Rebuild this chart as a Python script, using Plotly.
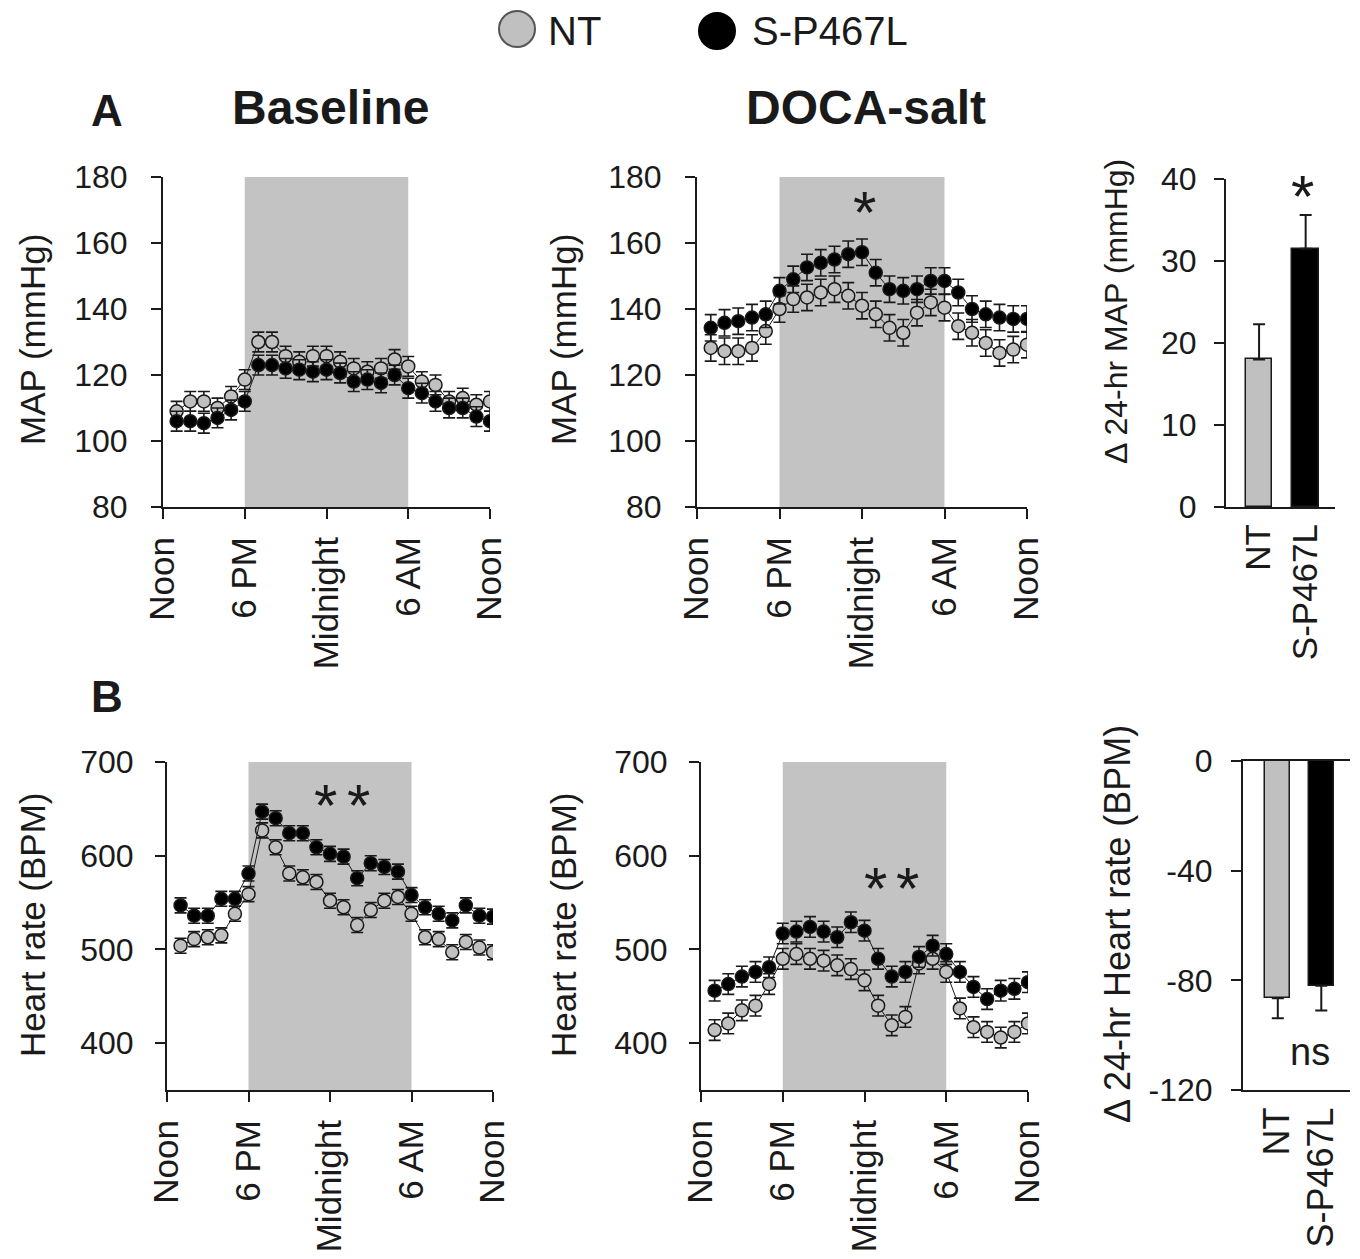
import plotly.graph_objects as go

# ---------------- data ----------------
hours = [1, 2, 3, 4, 5, 6, 7, 8, 9, 10, 11, 12, 13, 14, 15, 16, 17, 18, 19, 20, 21, 22, 23, 24]
time_tickvals = [0, 6, 12, 18, 24]
time_ticktext = ["Noon", "6 PM", "Midnight", "6 AM", "Noon"]

map_base_nt = [109, 112, 112, 110, 113.5, 118.6, 130, 130, 125.7, 124, 125.7, 125.7,
               124, 122, 121, 122, 124.7, 122.6, 118, 117, 112, 113, 111, 112]
map_base_sp = [106, 106, 105.4, 107, 109.4, 112, 123, 123, 122, 121.6, 121, 121.6,
               120.6, 118, 118.6, 117.6, 120, 116, 114.5, 112, 110, 110, 107.4, 106]
map_doca_nt = [128.2, 127.2, 127.2, 128.2, 133.3, 140, 143, 143.5, 145, 146, 144, 141,
               138.4, 134.3, 132.8, 138.9, 142, 140.4, 134.8, 132.8, 129.7, 126.7, 127.7, 129.2]
map_doca_sp = [134.3, 135.8, 136.3, 137.4, 138.4, 145.5, 149, 152.6, 154, 155, 156.6, 157.2,
               151, 146, 145.5, 146, 148.5, 148.5, 145, 140, 138.4, 137.4, 137, 137]

hr_base_nt = [504, 511, 513, 515, 538, 559, 627, 609, 581, 577, 572, 552,
              545, 526, 542, 552, 556, 538, 513, 511, 497, 508, 502, 497]
hr_base_sp = [547, 536, 536, 554, 554, 581, 647, 640, 624, 624, 609, 602,
              599, 576, 592, 588, 583, 558, 545, 538, 531, 547, 536, 535]
hr_doca_nt = [414, 421, 435, 440, 463, 490, 495, 490, 488, 483, 479, 467,
              440, 419, 428, 485, 490, 476, 437, 417, 412, 406, 412, 421]
hr_doca_sp = [456, 463, 471, 476, 481, 517, 519, 524, 519, 513, 529, 520,
              490, 471, 476, 492, 504, 495, 476, 460, 447, 456, 458, 465]

map_base_err = 3
map_doca_err = 4
hr_base_err = 8
hr_doca_err = 11

groups = ["NT", "S-P467L"]
map_delta = [18, 31.5]
map_delta_err = [4.3, 4.1]
hr_delta = [-86.5, -82]
hr_delta_err = [7.3, 9]

hr_delta_ticks = [-120, -80, -40, 0]
hr_delta_ticktext = ["-120", "-80", "-40", "0"]

# ---------------- style ----------------
W, H = 1360, 1259
FONT = "Liberation Sans, Arial, sans-serif"
INK = "#1a1a1a"
GRAY = "#c0c0c0"
BAND = "#c3c3c3"


def px(x):
    return x / W


def py(y):
    return 1 - y / H


fig = go.Figure()


def add_pair(xa, ya, nt, sp, err):
    for vals, fill, name in [(nt, GRAY, "NT"), (sp, "black", "S-P467L")]:
        fig.add_trace(go.Scatter(
            x=hours, y=vals, mode="lines+markers", name=name, showlegend=False,
            xaxis=xa, yaxis=ya,
            line=dict(color=INK, width=1),
            marker=dict(size=13, color=fill, line=dict(color=INK, width=1.5)),
            error_y=dict(type="constant", value=err, color=INK, thickness=1.6, width=6),
        ))


add_pair("x", "y", map_base_nt, map_base_sp, map_base_err)
add_pair("x2", "y2", map_doca_nt, map_doca_sp, map_doca_err)
add_pair("x4", "y4", hr_base_nt, hr_base_sp, hr_base_err)
add_pair("x5", "y5", hr_doca_nt, hr_doca_sp, hr_doca_err)

fig.add_trace(go.Bar(
    x=[0, 1], y=map_delta, xaxis="x3", yaxis="y3", width=0.57, showlegend=False,
    marker=dict(color=[GRAY, "black"], line=dict(color=INK, width=1.5)),
    error_y=dict(type="data", array=map_delta_err, arrayminus=[0, 0], color=INK,
                 thickness=2, width=6),
))
fig.add_trace(go.Bar(
    x=[0, 1], y=hr_delta, xaxis="x6", yaxis="y6", width=0.58, showlegend=False,
    marker=dict(color=[GRAY, "black"], line=dict(color=INK, width=1.5)),
    error_y=dict(type="data", array=[0, 0], arrayminus=hr_delta_err, color=INK,
                 thickness=2, width=6),
))


def tf(size):
    return dict(family=FONT, size=size, color=INK)


def time_xaxis(x0, x1, anchor):
    return dict(domain=[px(x0), px(x1)], anchor=anchor, range=[0, 24],
                tickvals=time_tickvals, ticktext=time_ticktext, tickangle=-90,
                showline=True, linecolor=INK, linewidth=2, ticks="outside",
                ticklen=10, tickwidth=2, tickcolor=INK, tickfont=tf(35),
                ticklabelstandoff=4, showgrid=False, zeroline=False,
                automargin=False, fixedrange=True)


def val_yaxis(y0, y1, anchor, rng, dtick, standoff=17, size=32):
    return dict(domain=[py(y1), py(y0)], anchor=anchor, range=rng, dtick=dtick,
                showline=True, linecolor=INK, linewidth=2, ticks="outside",
                ticklen=10, tickwidth=2, tickcolor=INK, tickfont=tf(size),
                ticklabelstandoff=standoff, showgrid=False, zeroline=False,
                automargin=False, fixedrange=True)


def cat_xaxis(x0, x1, anchor, rng, size, mirror=False):
    return dict(domain=[px(x0), px(x1)], anchor=anchor, range=rng,
                tickvals=[0, 1], ticktext=groups, tickangle=-90,
                showline=True, linecolor=INK, linewidth=2, mirror=mirror, ticks="",
                tickfont=tf(size), ticklabelstandoff=1, showgrid=False,
                zeroline=False, automargin=False, fixedrange=True)


layout_axes = dict(
    xaxis=time_xaxis(163, 490, "y"),
    yaxis=val_yaxis(177, 507, "x", [80, 180], 20),
    xaxis2=time_xaxis(697, 1027, "y2"),
    yaxis2=val_yaxis(177, 507, "x2", [80, 180], 20),
    xaxis3=cat_xaxis(1226, 1335, "y3", [-0.71, 1.63], 35),
    yaxis3=val_yaxis(179, 507, "x3", [0, 40], 10, standoff=11),
    xaxis4=time_xaxis(167, 493, "y4"),
    yaxis4=val_yaxis(762, 1090, "x4", [350, 700], 100, standoff=15),
    xaxis5=time_xaxis(701, 1028, "y5"),
    yaxis5=val_yaxis(762, 1090, "x5", [350, 700], 100, standoff=15),
    xaxis6=cat_xaxis(1243, 1350, "y6", [-0.8, 1.66], 36, mirror=True),
    yaxis6=val_yaxis(761, 1090, "x6", [-120, 0], 40, standoff=12),
)
layout_axes["yaxis4"]["tickvals"] = [400, 500, 600, 700]
layout_axes["yaxis5"]["tickvals"] = [400, 500, 600, 700]
layout_axes["yaxis6"]["tickvals"] = hr_delta_ticks
layout_axes["yaxis6"]["ticktext"] = hr_delta_ticktext

# dark-period bands
shapes = []
for xr, yr in [("x", "y"), ("x2", "y2"), ("x4", "y4"), ("x5", "y5")]:
    shapes.append(dict(type="rect", xref=xr, yref=yr + " domain", x0=6, x1=18, y0=0, y1=1,
                       fillcolor=BAND, line=dict(width=0), layer="below"))

# legend symbols
shapes.append(dict(type="circle", xref="paper", yref="paper",
                   x0=px(499), x1=px(535), y0=py(47), y1=py(11),
                   fillcolor=GRAY, line=dict(color="#555555", width=2)))
shapes.append(dict(type="circle", xref="paper", yref="paper",
                   x0=px(699), x1=px(735), y0=py(49), y1=py(13),
                   fillcolor="black", line=dict(color="black", width=2)))

ann = []


def text(x, y, s, size, bold=False, angle=0, xanchor="center", yanchor="middle"):
    ann.append(dict(x=px(x), y=py(y), xref="paper", yref="paper", text=s, showarrow=False,
                    textangle=angle, xanchor=xanchor, yanchor=yanchor,
                    font=dict(family=FONT, size=size, color=INK,
                              weight="bold" if bold else "normal")))


# legend text
text(546, 31, "NT", 40, xanchor="left")
text(750, 31, "S-P467L", 40, xanchor="left")
# panel titles / letters
text(107, 110, "A", 44, bold=True)
text(107, 697, "B", 44, bold=True)
text(330, 108, "Baseline", 48, bold=True)
text(866, 108, "DOCA-salt", 48, bold=True)
# axis titles
text(32, 340, "MAP (mmHg)", 35, angle=-90)
text(563, 340, "MAP (mmHg)", 35, angle=-90)
text(1116, 312, "Δ 24-hr MAP (mmHg)", 32, angle=-90)
text(32, 925, "Heart rate (BPM)", 35, angle=-90)
text(563, 925, "Heart rate (BPM)", 35, angle=-90)
text(1117, 924, "Δ 24-hr Heart rate (BPM)", 36, angle=-90)
# significance marks
text(864, 213, "*", 60)
text(325, 806, "*", 60)
text(358, 806, "*", 60)
text(875, 888, "*", 60)
text(907, 888, "*", 60)
text(1302, 196, "*", 60)
text(1310, 1052, "ns", 38)

fig.update_layout(
    width=W, height=H, margin=dict(l=0, r=0, t=0, b=0, autoexpand=False),
    paper_bgcolor="white", plot_bgcolor="white",
    font=dict(family=FONT, color=INK),
    showlegend=False, shapes=shapes, annotations=ann, bargap=0,
    **layout_axes,
)

fig.write_html("out.html", config={"displayModeBar": False},
               post_script="document.body.style.margin='0';document.body.style.overflow='hidden';")
